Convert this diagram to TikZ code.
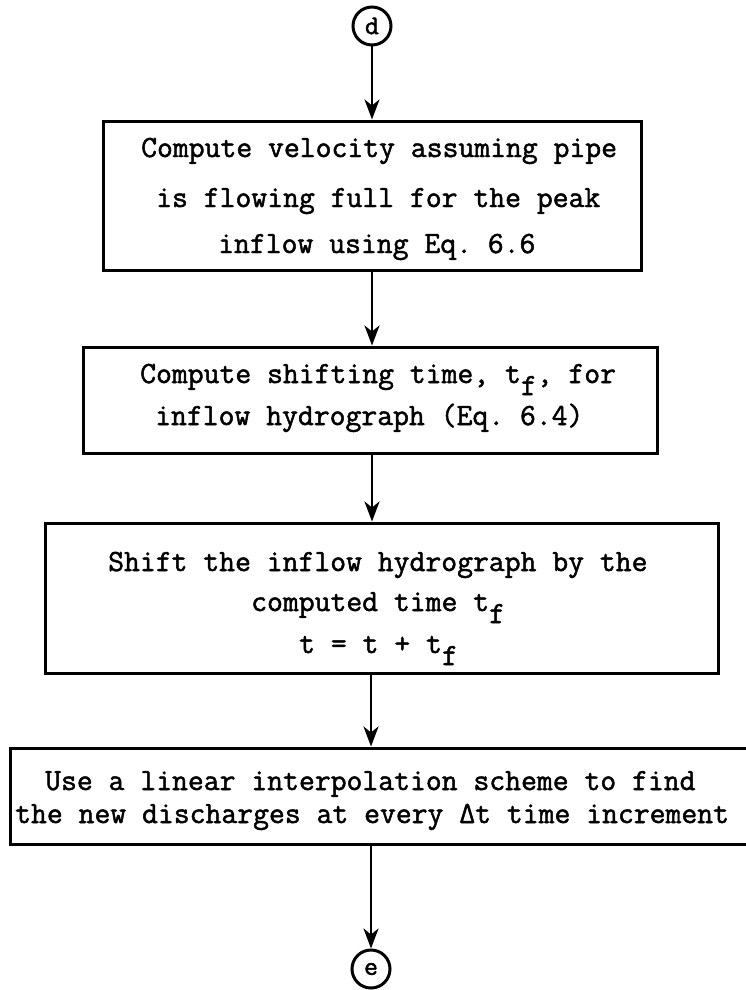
\documentclass[tikz,border=0pt]{standalone}
\usepackage{fontspec}
\newfontfamily\tw[FakeBold=1.6]{Latin Modern Mono}
\usetikzlibrary{arrows.meta}
% typewriter-style lowered subscript
\newcommand\lowf{\raisebox{-12pt}{f}}
\tikzset{
  box/.style={draw, line width=3pt, inner sep=0pt},
  txt/.style={anchor=base west, inner sep=0pt,
              font=\tw\fontsize{30.8}{34}\selectfont},
  conn/.style={draw, circle, line width=3pt, minimum size=38pt, inner sep=0pt,
               font=\tw\fontsize{27}{28}\selectfont},
  arr/.style={line width=2.8pt, -{Stealth[length=20pt,width=15pt,inset=6pt]}},
}
\begin{document}
\frenchspacing
\begin{tikzpicture}[x=1pt,y=-1pt]
  \useasboundingbox (0,0) rectangle (745,990);

  % connectors (off-page references)
  \node[conn] (d) at (372,26) {d};
  \node[conn] (e) at (371,969) {e};

  % process boxes
  \node[box, minimum width=538pt, minimum height=149pt] (b1) at (372,195.5) {};
  \node[box, minimum width=574pt, minimum height=106pt] (b2) at (370,400) {};
  \node[box, minimum width=673pt, minimum height=150pt] (b3) at (381.5,598) {};
  \node[box, minimum width=742pt, minimum height=96pt]  (b4) at (381,796) {};

  % box texts
  \node[txt] (b1a) at (141,157) {Compute velocity assuming pipe};
  \node[txt] (b1b) at (156,207) {is flowing full for the peak};
  \node[txt] (b1c) at (218,253) {inflow using Eq. 6.6};

  \node[txt] (b2a) at (140,383) {Compute shifting time, t\lowf, for};
  \node[txt] (b2b) at (155,425) {inflow hydrograph (Eq. 6.4)};

  \node[txt] (b3a) at (108,571) {Shift the inflow hydrograph by the};
  \node[txt] (b3b) at (251,611) {computed time t\lowf};
  \node[txt] (b3c) at (299,653) {t = t + t\lowf};

  \node[txt] (b4a) at (45,790) {Use a linear interpolation scheme to find};
  \node[txt] (b4b) at (15,823) {the new discharges at every Δt time increment};

  % flow arrows
  \draw[arr] (d) -- (b1.north -| d);
  \draw[arr] (b1.south -| d) -- (b2.north -| d);
  \draw[arr] (b2.south -| d) -- (b3.north -| d);
  \draw[arr] (b3.south -| e) -- (b4.north -| e);
  \draw[arr] (b4.south -| e) -- (e);
\end{tikzpicture}
\end{document}
